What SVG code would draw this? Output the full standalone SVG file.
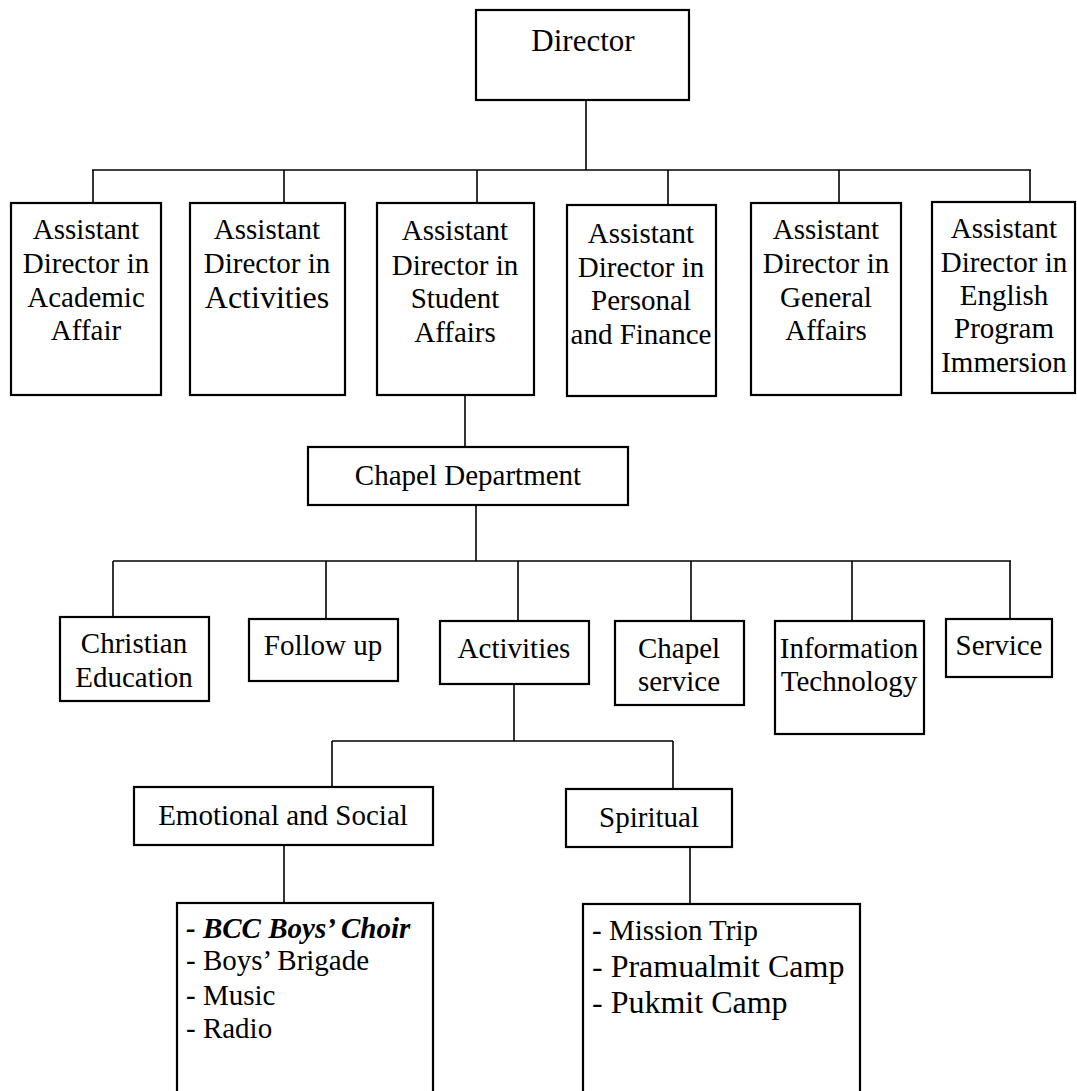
<svg xmlns="http://www.w3.org/2000/svg" width="1077" height="1091" viewBox="0 0 1077 1091">
<style>
rect.box{fill:#fff;stroke:#000;stroke-width:2.2}
.t{font-family:"Liberation Serif","Times New Roman",serif;font-size:29px;fill:#000;text-anchor:middle}
.l{font-family:"Liberation Serif","Times New Roman",serif;font-size:29px;fill:#000}
.big{font-size:32px}
.bi{font-weight:bold;font-style:italic}
#connectors line{stroke:#000;stroke-width:1.6}
</style>
<rect width="1077" height="1091" fill="#fff"/>
<g id="connectors">
<line x1="586" y1="100" x2="586" y2="170"/>
<line x1="92" y1="170" x2="1031" y2="170"/>
<line x1="93" y1="170" x2="93" y2="203"/>
<line x1="284" y1="170" x2="284" y2="203"/>
<line x1="477" y1="170" x2="477" y2="203"/>
<line x1="668" y1="170" x2="668" y2="205"/>
<line x1="839" y1="170" x2="839" y2="203"/>
<line x1="1030" y1="170" x2="1030" y2="202"/>
<line x1="465" y1="395" x2="465" y2="447"/>
<line x1="476" y1="505" x2="476" y2="561"/>
<line x1="113" y1="561" x2="1011" y2="561"/>
<line x1="113" y1="561" x2="113" y2="618"/>
<line x1="326" y1="561" x2="326" y2="619"/>
<line x1="518" y1="561" x2="518" y2="621"/>
<line x1="691" y1="561" x2="691" y2="621"/>
<line x1="852" y1="561" x2="852" y2="621"/>
<line x1="1010" y1="561" x2="1010" y2="619"/>
<line x1="514" y1="684" x2="514" y2="741"/>
<line x1="332" y1="741" x2="673" y2="741"/>
<line x1="332" y1="741" x2="332" y2="787"/>
<line x1="673" y1="741" x2="673" y2="789"/>
<line x1="284" y1="845" x2="284" y2="903"/>
<line x1="690" y1="847" x2="690" y2="904"/>
</g>
<g id="director"><rect class="box" x="476" y="10" width="213" height="90"/><text class="t" x="583" y="51" style="font-size:31px">Director</text></g>
<g id="ad-academic"><rect class="box" x="11" y="203" width="150" height="192"/>
<text class="t" x="86" y="239">Assistant</text><text class="t" x="86" y="273">Director in</text><text class="t" x="86" y="307">Academic</text><text class="t" x="86" y="340">Affair</text></g>
<g id="ad-activities"><rect class="box" x="190" y="203" width="155" height="192"/>
<text class="t" x="267" y="239">Assistant</text><text class="t" x="267" y="273">Director in</text><text class="t big" x="267" y="308">Activities</text></g>
<g id="ad-student"><rect class="box" x="377" y="203" width="157" height="192"/>
<text class="t" x="455" y="240">Assistant</text><text class="t" x="455" y="275">Director in</text><text class="t" x="455" y="308">Student</text><text class="t" x="455" y="342">Affairs</text></g>
<g id="ad-personal"><rect class="box" x="567" y="205" width="149" height="191"/>
<text class="t" x="641" y="243">Assistant</text><text class="t" x="641" y="277">Director in</text><text class="t" x="641" y="310">Personal</text><text class="t" x="641" y="344">and Finance</text></g>
<g id="ad-general"><rect class="box" x="751" y="203" width="150" height="192"/>
<text class="t" x="826" y="239">Assistant</text><text class="t" x="826" y="273">Director in</text><text class="t" x="826" y="307">General</text><text class="t" x="826" y="340">Affairs</text></g>
<g id="ad-english"><rect class="box" x="932" y="202" width="143" height="191"/>
<text class="t" x="1004" y="238">Assistant</text><text class="t" x="1004" y="272">Director in</text><text class="t" x="1004" y="305">English</text><text class="t" x="1004" y="338">Program</text><text class="t" x="1004" y="372">Immersion</text></g>
<g id="chapel-department"><rect class="box" x="308" y="447" width="320" height="58"/><text class="t" x="468" y="485">Chapel Department</text></g>
<g id="christian-education"><rect class="box" x="60" y="617" width="149" height="84"/><text class="t" x="134" y="653">Christian</text><text class="t" x="134" y="687">Education</text></g>
<g id="follow-up"><rect class="box" x="249" y="619" width="149" height="62"/><text class="t" x="323" y="655">Follow up</text></g>
<g id="activities"><rect class="box" x="440" y="621" width="149" height="63"/><text class="t" x="514" y="658">Activities</text></g>
<g id="chapel-service"><rect class="box" x="615" y="621" width="129" height="84"/><text class="t" x="679" y="658">Chapel</text><text class="t" x="679" y="691">service</text></g>
<g id="information-technology"><rect class="box" x="775" y="621" width="149" height="113"/><text class="t" x="849" y="658">Information</text><text class="t" x="849" y="691">Technology</text></g>
<g id="service"><rect class="box" x="946" y="619" width="106" height="58"/><text class="t" x="999" y="655">Service</text></g>
<g id="emotional-social"><rect class="box" x="134" y="787" width="299" height="58"/><text class="t" x="283" y="825">Emotional and Social</text></g>
<g id="spiritual"><rect class="box" x="566" y="789" width="166" height="58"/><text class="t" x="649" y="827">Spiritual</text></g>
<g id="es-list"><rect class="box" x="177" y="903" width="256" height="200"/>
<text class="l bi" x="186" y="938">- BCC Boys’ Choir</text>
<text class="l" x="186" y="970">- Boys’ Brigade</text>
<text class="l" x="186" y="1005">- Music</text>
<text class="l" x="186" y="1038">- Radio</text></g>
<g id="sp-list"><rect class="box" x="583" y="904" width="277" height="200"/>
<text class="l" x="592" y="940">- Mission Trip</text>
<text class="l big" x="592" y="977">- Pramualmit Camp</text>
<text class="l big" x="592" y="1013">- Pukmit Camp</text></g>
</svg>
